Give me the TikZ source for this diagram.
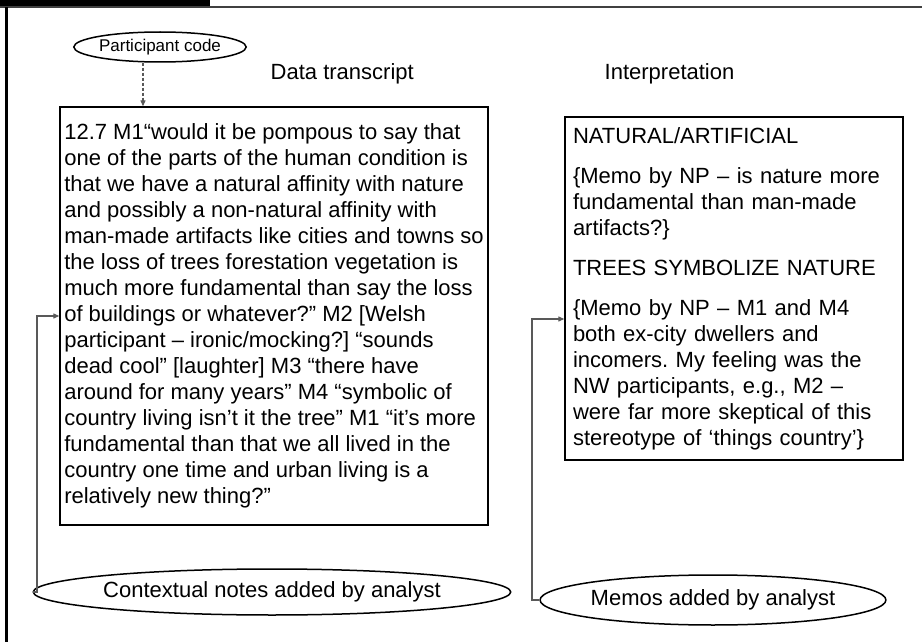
\documentclass[tikz,border=0pt]{standalone}
\usepackage{fontspec}
\setmainfont{Liberation Sans}
\usetikzlibrary{arrows.meta,calc,positioning,shapes.geometric}

\newcommand{\pxu}{0.75pt}
\newcommand{\bodyfont}{\frenchspacing\fontsize{16.5pt}{19.5pt}\selectfont}
\newcommand{\tagfont}{\fontsize{12.75pt}{15pt}\selectfont}

\tikzset{
  textbox/.style={draw,line width=1.3*\pxu,align=left,font=\bodyfont},
  tag/.style={draw,ellipse,line width=1.5*\pxu,inner sep=0pt,font=\bodyfont},
  link/.style={draw=black!65,line width=1.1*\pxu,-{Triangle[length=6*\pxu,width=5*\pxu]}},
}

\begin{document}
\begin{tikzpicture}[x=\pxu,y=-\pxu]
  \useasboundingbox (0,0) rectangle (922,642);

  % Rand og kopbjælke
  \fill (0,0) rectangle (210,6);
  \draw[black!75,line width=2*\pxu] (0,7) -- (922,7);
  \draw[line width=3*\pxu] (6,7) -- (6,642);

  % Overskrifter
  \node[anchor=west,font=\bodyfont] (headdata) at (266,74) {Data transcript};
  \node[anchor=west,font=\bodyfont] (headinterp) at (600,74) {Interpretation};

  % Kasser
  \node[textbox,inner sep=0pt,minimum width=428*\pxu,minimum height=418*\pxu] (transcript) at (274,316)
    {12.7 M1“would it be pompous to say that\\
     one of the parts of the human condition is\\
     that we have a natural affinity with nature\\
     and possibly a non-natural affinity with\\
     man-made artifacts like cities and towns so\\
     the loss of trees forestation vegetation is\\
     much more fundamental than say the loss\\
     of buildings or whatever?” M2 [Welsh\\
     participant – ironic/mocking?] “sounds\\
     dead cool” [laughter] M3 “there have\\
     around for many years” M4 “symbolic of\\
     country living isn’t it the tree” M1 “it’s more\\
     fundamental than that we all lived in the\\
     country one time and urban living is a\\
     relatively new thing?”};

  \node[textbox,inner xsep=8*\pxu,inner ysep=0pt,text width=322*\pxu,minimum height=343*\pxu] (interp) at (734,288.5)
    {NATURAL/ARTIFICIAL\\[10.5pt]
     \{Memo by NP – is nature more\\
     fundamental than man-made\\
     artifacts?\}\\[10.5pt]
     TREES SYMBOLIZE NATURE\\[10.5pt]
     \{Memo by NP – M1 and M4\\
     both ex-city dwellers and\\
     incomers. My feeling was the\\
     NW participants, e.g., M2 –\\
     were far more skeptical of this\\
     stereotype of ‘things country’\}};

  % Ellipser
  \node[tag,font=\tagfont,minimum width=172*\pxu,minimum height=30*\pxu] (partcode) at (160,47) {Participant code};
  \node[tag,minimum width=408*\pxu,minimum height=46*\pxu] (context) at (272,592) {Contextual notes added by analyst};
  \node[tag,minimum width=314*\pxu,minimum height=50*\pxu] (memos) at (713,600) {Memos added by analyst};

  % Forbindelser
  \coordinate (pcx) at (143,0);
  \coordinate (lx) at (37,0);
  \coordinate (rx) at (532,319);
  \draw[link,dash pattern=on 3*\pxu off 2*\pxu] (partcode.south -| pcx) -- (transcript.north -| pcx);
  \draw[link] (context.west) -- (context.west -| lx) |- (transcript.west);
  \draw[link] (memos.west) -- (memos.west -| rx) |- (interp.west |- rx);
\end{tikzpicture}
\end{document}
